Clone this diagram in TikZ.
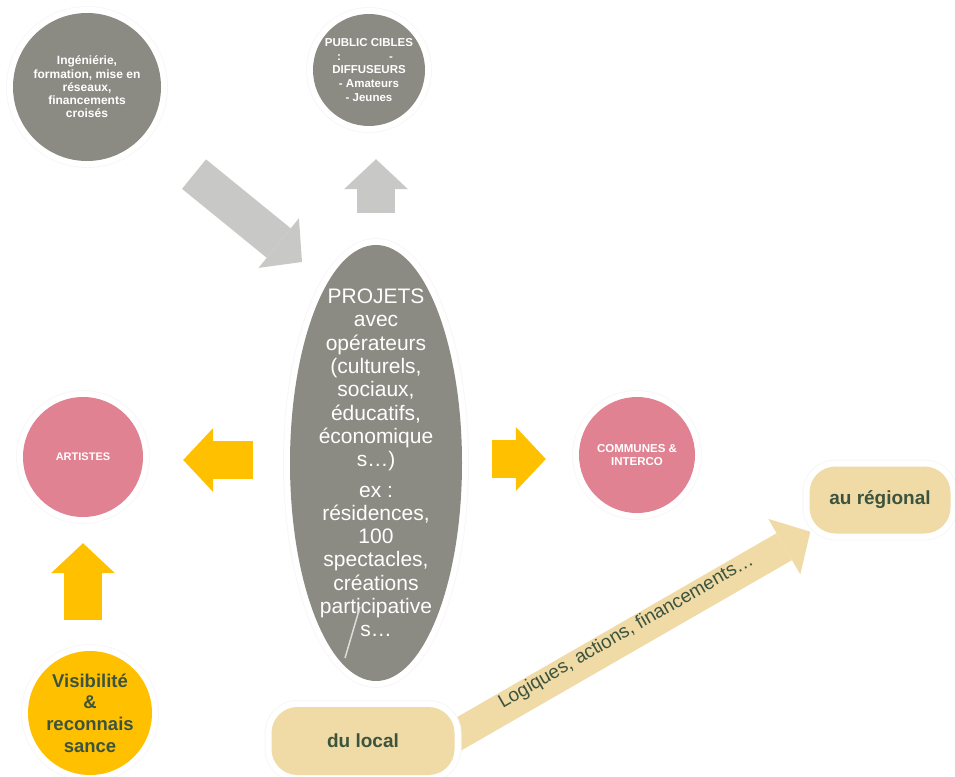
\documentclass[tikz,border=0pt]{standalone}
\usepackage{fontspec}
\setmainfont{Liberation Sans}
\usetikzlibrary{shapes.geometric,arrows.meta,backgrounds}

\definecolor{grisfonce}{RGB}{139,139,131}
\definecolor{grisclair}{RGB}{200,200,198}
\definecolor{rose}{RGB}{224,130,145}
\definecolor{jaune}{RGB}{255,192,0}
\definecolor{sable}{RGB}{240,218,166}
\definecolor{vertfonce}{RGB}{60,84,62}

\tikzset{
  halo/.style={preaction={draw=black!3,line width=14pt},
               preaction={draw=white,line width=12pt}},
  rond/.style={circle,inner sep=0pt,align=center,halo},
  cartouche/.style={rectangle,rounded corners=26pt,fill=sable,inner sep=0pt,halo,
                    text=vertfonce,font=\fontsize{19}{22}\selectfont\bfseries},
  tete/.style={-{Triangle[width=64pt,length=30pt,line width=0pt]}},
  grisfleche/.style={draw=grisclair,line width=38pt,tete},
  jaunefleche/.style={draw=jaune,line width=38pt,tete},
  sablefleche/.style={draw=sable,line width=31pt,tete}
}

\begin{document}
\begin{tikzpicture}[x=1pt,y=-1pt]
  \useasboundingbox (0,0) rectangle (955,776);
  % cercles du haut
  \node[rond,fill=grisfonce,minimum size=148pt,text=white,
        font=\fontsize{12}{13.3}\selectfont\bfseries] (inge) at (87,87)
        {Ingéniérie,\\formation, mise en\\réseaux,\\financements\\croisés};
  \node[rond,fill=grisfonce,minimum size=112pt,text=white,
        font=\fontsize{11.5}{13.8}\selectfont\bfseries] (public) at (369,70)
        {PUBLIC CIBLES\\:\hspace{48pt}-\hspace{8pt}\mbox{}\\DIFFUSEURS\\- Amateurs\\- Jeunes};
  % projets au centre
  \node[ellipse,fill=grisfonce,minimum width=172pt,minimum height=436pt,
        inner sep=0pt,halo] (projets) at (376,463) {};
  \node[text=white,align=center,font=\fontsize{21}{23.3}\selectfont] (projetstxt) at (projets.center)
        {PROJETS\\avec\\opérateurs\\(culturels,\\sociaux,\\éducatifs,\\économique\\s…)\\[7pt]
         ex :\\résidences,\\100\\spectacles,\\créations\\participative\\s…};
  \draw[white!70!grisfonce,line width=1.5pt] (360,607) -- (345,658);
  % cercles roses
  \node[rond,fill=rose,minimum size=120pt,text=white,
        font=\fontsize{11}{13}\selectfont\bfseries] (artistes) at (83,457) {ARTISTES};
  \node[rond,fill=rose,minimum size=116pt,text=white,
        font=\fontsize{11.5}{13}\selectfont\bfseries] (communes) at (637,455) {COMMUNES \&\\INTERCO};
  % visibilite
  \node[rond,fill=jaune,minimum size=124pt,text=vertfonce,
        font=\fontsize{18.5}{21.7}\selectfont\bfseries] (visib) at (90,713)
        {Visibilité\\\&\\reconnais\\sance};
  % du local -> au regional
  \node[cartouche,minimum width=141pt,minimum height=67pt] (regional) at (880,500) {au régional};
  \node[cartouche,minimum width=183pt,minimum height=68pt] (local) at (363,741) {du local};

  % fleches
  \coordinate (pointe) at (302,262);
  \draw[grisfleche,shorten <=138pt] (inge.center) -- (pointe);
  \draw[grisfleche,shorten <=32pt,shorten >=33pt] (projets.north) -- (projets.north |- public.south);
  \draw[jaunefleche,shorten <=37pt,shorten >=40pt] ([yshift=3pt]projets.west) -- ([yshift=3pt]projets.west -| artistes.east);
  \draw[jaunefleche,shorten <=30pt,shorten >=33pt] ([yshift=4pt]projets.east) -- ([yshift=4pt]projets.east -| communes.west);
  \draw[jaunefleche,shorten <=31pt,shorten >=26pt] (artistes.south |- visib.north) -- (artistes.south);
  \begin{scope}[on background layer]
    \draw[sablefleche] ([shift={(-15,4)}]local.east) -- ([shift={(1,-2)}]regional.south west)
      node[pos=.51,sloped,yshift=5pt,text=vertfonce,font=\fontsize{19}{22}\selectfont] (logiques)
      {Logiques, actions, financements…};
  \end{scope}
\end{tikzpicture}
\end{document}
